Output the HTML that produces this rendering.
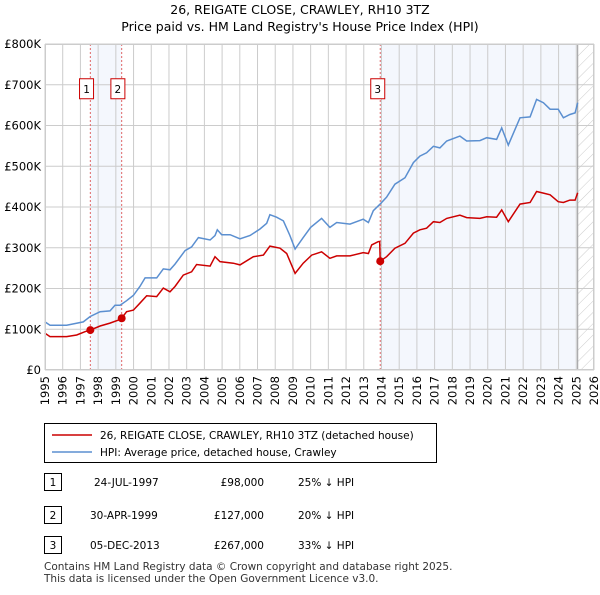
<!DOCTYPE html>
<html><head><meta charset="utf-8"><style>
body{margin:0;background:#fff;font-family:"Liberation Sans","DejaVu Sans",sans-serif;}
svg text{font-family:"DejaVu Sans","Liberation Sans",sans-serif;}
</style></head><body>
<svg id="c" width="600" height="590" viewBox="0 0 600 590" xmlns="http://www.w3.org/2000/svg">
<defs><pattern id="hatch" width="8" height="8" patternUnits="userSpaceOnUse" patternTransform="rotate(45)"><line x1="0" y1="0" x2="0" y2="8" stroke="#ccc" stroke-width="1"/></pattern></defs>
<text x="300" y="14" text-anchor="middle" font-size="12.5" fill="#000">26, REIGATE CLOSE, CRAWLEY, RH10 3TZ</text>
<text x="300" y="31" text-anchor="middle" font-size="12.5" fill="#000">Price paid vs. HM Land Registry's House Price Index (HPI)</text>
<g id="plot"></g>
<g id="legend">
<rect x="44.5" y="423.5" width="392" height="39" fill="#fff" stroke="#000"/>
<line x1="52" y1="435" x2="92" y2="435" stroke="#cc0000" stroke-width="1.5"/>
<text x="100" y="439" font-size="10.5">26, REIGATE CLOSE, CRAWLEY, RH10 3TZ (detached house)</text>
<line x1="52" y1="452" x2="92" y2="452" stroke="#5b8fd0" stroke-width="1.5"/>
<text x="100" y="456" font-size="10.5">HPI: Average price, detached house, Crawley</text>
</g>
<g id="table" font-size="10.5">
<rect x="44.5" y="473.5" width="17" height="17" fill="#fff" stroke="#000"/><text x="53" y="486" text-anchor="middle">1</text>
<text x="94" y="486">24-JUL-1997</text><text x="264" y="486" text-anchor="end">£98,000</text><text x="298" y="486">25% ↓ HPI</text>
<rect x="44.5" y="506.5" width="17" height="17" fill="#fff" stroke="#000"/><text x="53" y="519" text-anchor="middle">2</text>
<text x="90" y="519">30-APR-1999</text><text x="264" y="519" text-anchor="end">£127,000</text><text x="298" y="519">20% ↓ HPI</text>
<rect x="44.5" y="536.5" width="17" height="17" fill="#fff" stroke="#000"/><text x="53" y="549" text-anchor="middle">3</text>
<text x="90" y="549">05-DEC-2013</text><text x="264" y="549" text-anchor="end">£267,000</text><text x="298" y="549">33% ↓ HPI</text>
</g>
<text x="44" y="570" font-size="10.5" fill="#333">Contains HM Land Registry data © Crown copyright and database right 2025.</text>
<text x="44" y="582" font-size="10.5" fill="#333">This data is licensed under the Open Government Licence v3.0.</text>
</svg>
<script>
const hpiYears=[1995.0,1995.28,1996.22,1997.16,1997.54,1998.11,1998.67,1998.95,1999.24,1999.61,1999.99,2000.36,2000.65,2001.31,2001.68,2002.06,2002.34,2002.91,2003.28,2003.66,2004.32,2004.6,2004.73,2004.98,2005.45,2006.01,2006.58,2007.14,2007.52,2007.7,2008.08,2008.46,2008.83,2009.12,2009.58,2010.0,2010.62,2011.09,2011.47,2012.22,2012.97,2013.26,2013.54,2013.92,2014.29,2014.76,2015.33,2015.8,2016.17,2016.55,2016.93,2017.3,2017.68,2018.43,2018.81,2019.56,2019.94,2020.5,2020.79,2021.16,2021.82,2022.39,2022.76,2023.14,2023.52,2023.98,2024.27,2024.64,2024.93,2025.08];
const hpiValues=[118,110,110,118,131,143,145,159,159,170,183,205,226,226,248,246,260,293,302,325,319,330,344,332,332,322,330,346,360,381,375,366,330,297,325,350,372,350,362,358,370,362,391,407,424,456,472,509,525,533,549,545,562,574,562,563,570,566,594,552,619,621,664,656,640,640,619,627,631,656];
const ppYears=[1995.0,1995.28,1996.22,1996.79,1997.26,1997.56,1998.11,1998.67,1999.24,1999.33,1999.61,1999.99,2000.36,2000.74,2001.31,2001.68,2002.06,2002.34,2002.81,2003.28,2003.56,2004.32,2004.6,2004.88,2005.63,2006.01,2006.76,2007.33,2007.7,2008.27,2008.65,2009.12,2009.58,2010.06,2010.62,2011.09,2011.47,2012.22,2012.97,2013.26,2013.45,2013.82,2013.9,2013.93,2014.29,2014.76,2015.33,2015.8,2016.17,2016.55,2016.93,2017.3,2017.68,2018.43,2018.81,2019.56,2019.94,2020.5,2020.79,2021.16,2021.82,2022.39,2022.76,2023.14,2023.52,2023.98,2024.27,2024.64,2024.93,2025.08];
const ppValues=[90,82,82,86,94,98,108,115,124,127,143,147,164,182,180,201,192,205,233,241,259,255,278,266,262,258,278,282,304,299,286,237,262,282,290,274,280,280,288,286,307,315,315,267,278,299,311,336,344,348,364,362,372,380,374,372,376,375,393,364,407,411,438,434,430,413,411,417,417,435];
const saleYears=[1997.56,1999.33,2013.93];
const salePrices=[98,127,267];
const saleLabels=["1","2","3"];
const yTicks=[0,100,200,300,400,500,600,700,800];
const yTickLabels=["£0","£100K","£200K","£300K","£400K","£500K","£600K","£700K","£800K"];
const xTicks=[1995,1996,1997,1998,1999,2000,2001,2002,2003,2004,2005,2006,2007,2008,2009,2010,2011,2012,2013,2014,2015,2016,2017,2018,2019,2020,2021,2022,2023,2024,2025,2026];

const NS="http://www.w3.org/2000/svg";
const X0=45,X1=594,Y0=370,Y1=44;
const xs=y=>X0+(y-1995)/(2026-1995)*(X1-X0);
const ys=v=>Y0-v/800*(Y0-Y1);
const g=document.getElementById('plot');
function mk(tag,attrs,parent){const e=document.createElementNS(NS,tag);for(const k in attrs)e.setAttribute(k,attrs[k]);(parent||g).appendChild(e);return e;}
let e;
e=mk('rect',{x:X0,y:Y1,width:X1-X0,height:Y0-Y1,fill:'#fff'});


e=mk('rect',{x:xs(saleYears[0]),y:Y1,width:xs(saleYears[1])-xs(saleYears[0]),height:Y0-Y1,fill:'#eef3fc',opacity:0.65});


e=mk('rect',{x:xs(saleYears[2]),y:Y1,width:xs(2025.08)-xs(saleYears[2]),height:Y0-Y1,fill:'#eef3fc',opacity:0.65});


e=mk('rect',{x:xs(2025.08),y:Y1,width:X1-xs(2025.08),height:Y0-Y1,fill:'url(#hatch)'});


yTicks.forEach((v,i)=>{
 e=mk('line',{x1:X0,x2:X1,y1:ys(v),y2:ys(v),stroke:'#ccc','stroke-width':1});
 
 
 e=mk('text',{x:X0-4,y:ys(v)+4,'text-anchor':'end','font-size':'11.5',fill:'#000'});
 e.textContent=yTickLabels[i];
 
 
});
xTicks.forEach(t=>{
 e=mk('line',{x1:xs(t),x2:xs(t),y1:Y1,y2:Y0,stroke:'#ccc','stroke-width':1});
 
 
 e=mk('text',{x:0,y:0,'text-anchor':'end','font-size':'11.5',fill:'#000',transform:`translate(${xs(t)+4},${Y0+6}) rotate(-90)`});
 e.textContent=t;
 
 
});
e=mk('line',{x1:xs(2025.08),x2:xs(2025.08),y1:Y1,y2:Y0,stroke:'#999','stroke-width':1});


saleYears.forEach((s,i)=>{
 e=mk('line',{x1:xs(s),x2:xs(s),y1:Y1,y2:Y0,stroke:'#e06666','stroke-width':1,'stroke-dasharray':'2,2'});
 
 
});
const path=(xsA,vs)=>xsA.map((y,i)=>(i?'L':'M')+xs(y).toFixed(1)+','+ys(vs[i]).toFixed(1)).join('');
e=mk('path',{d:path(hpiYears,hpiValues),fill:'none',stroke:'#5b8fd0','stroke-width':1.5});


e=mk('path',{d:path(ppYears,ppValues),fill:'none',stroke:'#cc0000','stroke-width':1.5});


saleYears.forEach((s,i)=>{
 e=mk('circle',{cx:xs(s),cy:ys(salePrices[i]),r:4,fill:'#cc0000'});
 
 
 const bx=xs(s)-(i===2?2.5:3.8)-7;
 e=mk('rect',{x:bx,y:ys(700)-6,width:14,height:20,fill:'#fff',stroke:'#cc0000'});
 
 
 e=mk('text',{x:bx+7,y:ys(700)+8,'text-anchor':'middle','font-size':'10.5'});
 e.textContent=saleLabels[i];
 
 
});
e=mk('rect',{x:X0+0.5,y:Y1+0.5,width:X1-X0-1,height:Y0-Y1-1,fill:'none',stroke:'#ccc'});


</script>
</body></html>
